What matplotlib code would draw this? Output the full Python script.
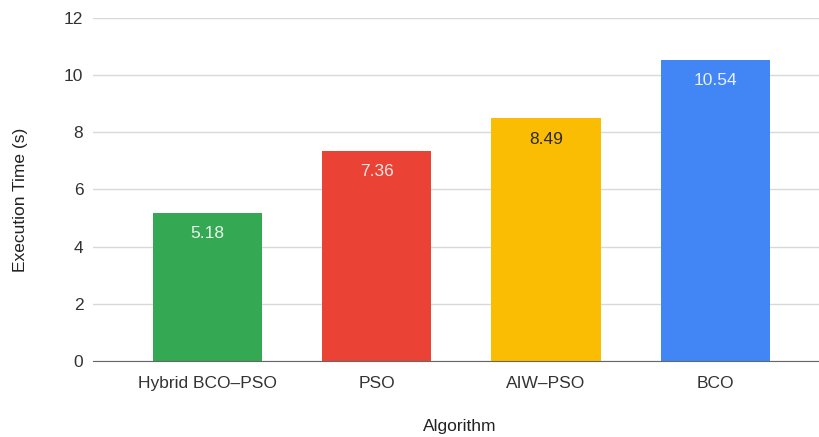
import numpy as np
from matplotlib import pyplot as plt

# данные
algorithms = ['Hybrid BCO–PSO', 'PSO', 'AIW–PSO', 'BCO']
exec_time = [5.18, 7.36, 8.49, 10.54]
bar_colors = ['#34A853', '#EA4335', '#FBBC04', '#4285F4']
label_colors = ['#e8f5ea', '#fbe3e1', '#2b2b2b', '#e6effd']
y_ticks = [0, 2, 4, 6, 8, 10, 12]

plt.rcParams['font.family'] = ['Liberation Sans', 'DejaVu Sans']

fig = plt.figure(figsize=(8.2, 4.37), dpi=100, facecolor='white')
ax = fig.add_axes([0.1134, 0.174, 0.8866, 0.785])

x = np.arange(len(algorithms))
bars = ax.bar(x, exec_time, width=0.645, color=bar_colors, zorder=3)

for bar, val, col in zip(bars, exec_time, label_colors):
    ax.annotate(f"{val:.2f}", (bar.get_x() + bar.get_width() / 2, val),
                xytext=(0, -21), textcoords='offset pixels',
                ha='center', va='center', fontsize=12.5, color=col, zorder=4)

ax.set_ylim(0, 12)
ax.set_xlim(-0.678, 3.62)
ax.set_yticks(y_ticks)
ax.set_xticks(x, algorithms)
ax.grid(axis='y', color='#d9d9d9', linewidth=1, zorder=0)
ax.tick_params(axis='both', length=0, labelsize=12.5, labelcolor='#333333')
ax.tick_params(axis='y', pad=7)
ax.tick_params(axis='x', pad=10.5)
for side in ['top', 'right', 'left']:
    ax.spines[side].set_visible(False)
ax.spines['bottom'].set_color('#666666')
ax.spines['bottom'].set_zorder(5)

ax.set_ylabel('Execution Time (s)', fontsize=12.5, color='#222222')
ax.set_xlabel('Algorithm', fontsize=12.5, color='#222222')
ax.yaxis.set_label_coords(-0.09, 0.47)
ax.xaxis.set_label_coords(0.505, -0.17)

fig.savefig('out.png', dpi=100, facecolor='white')
